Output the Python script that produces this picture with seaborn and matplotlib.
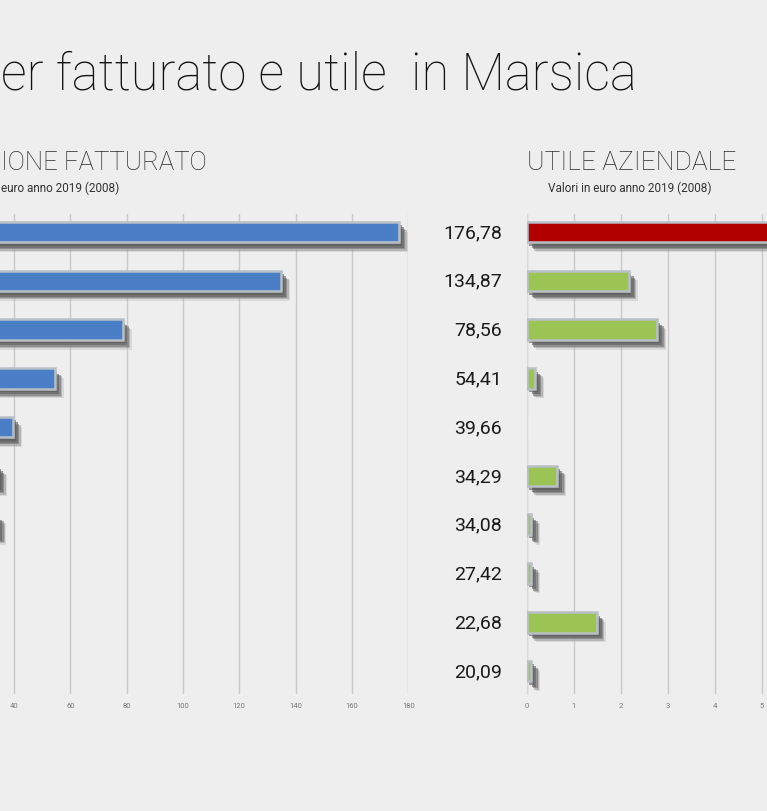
import matplotlib
matplotlib.use("Agg")
import matplotlib.pyplot as plt
import matplotlib.patheffects as pe
from matplotlib.transforms import blended_transform_factory
import seaborn as sns
import pandas as pd

# ---- data ----
ranks = ["1", "2", "3", "4", "5", "6", "7", "8", "9", "10"]
fatturato = [176.78, 134.87, 78.56, 54.41, 39.66, 34.29, 34.08, 27.42, 22.68, 20.09]
fatturato_labels = ["176,78", "134,87", "78,56", "54,41", "39,66",
                    "34,29", "34,08", "27,42", "22,68", "20,09"]
utile = [7.5, 2.17, 2.78, 0.18, 0.0, 0.65, 0.10, 0.10, 1.49, 0.10]
utile_colors = ["#b00000"] + ["#9bc454"] * 9
fatt_grid = [0, 20, 40, 60, 80, 100, 120, 140, 160, 180]
fatt_ticks = [40, 60, 80, 100, 120, 140, 160, 180]
utile_grid = [0, 1, 2, 3, 4, 5, 6, 7, 8]
utile_ticks = [0, 1, 2, 3, 4, 5]

title_text = "er fatturato e utile  in Marsica"
left_heading = "IONE FATTURATO"
right_heading = "UTILE AZIENDALE"
subtitle = "Valori in euro anno 2019 (2008)"
left_subtitle = "euro anno 2019 (2008)"

BG = "#eeeeee"
sns.set_theme(style="white")
plt.rcParams["font.family"] = ["Roboto", "DejaVu Sans"]

W, H = 767, 812
fig = plt.figure(figsize=(W / 100, H / 100), dpi=100, facecolor=BG)

def px_axes(x0, x1, y_top, y_bot):
    return fig.add_axes([x0 / W, (H - y_bot) / H, (x1 - x0) / W, (y_bot - y_top) / H])

axL = px_axes(-98.7, 408.3, 215, 695)
axR = px_axes(526.7, 526.7 + 8 * 47.0, 215, 695)

df_f = pd.DataFrame({"rank": ranks, "val": fatturato})
df_u = pd.DataFrame({"rank": ranks, "val": utile})

sns.barplot(data=df_f, x="val", y="rank", orient="h", color="#4a7fc8",
            width=0.42, ax=axL, saturation=1)
sns.barplot(data=df_u, x="val", y="rank", orient="h", hue="rank",
            palette=utile_colors, width=0.42, ax=axR, saturation=1, legend=False)

shadow = [
    pe.SimplePatchShadow(offset=(6.5, -7.0), shadow_rgbFace="#b0b0b0", alpha=0.35),
    pe.SimplePatchShadow(offset=(5.5, -6.0), shadow_rgbFace="#8c8c8c", alpha=0.45),
    pe.SimplePatchShadow(offset=(4.5, -5.0), shadow_rgbFace="#707070", alpha=0.55),
    pe.SimplePatchShadow(offset=(3.5, -4.0), shadow_rgbFace="#606060", alpha=0.6),
    pe.SimplePatchShadow(offset=(2.0, -2.5), shadow_rgbFace="#5a5a5a", alpha=0.6),
    pe.Normal(),
]
for ax in (axL, axR):
    for p in ax.patches:
        if p.get_width() > 0:
            p.set_edgecolor("#b9bfc6")
            p.set_linewidth(1.8)
            p.set_path_effects(shadow)
            p.set_zorder(3)

for ax, grid, ticks, xmax in ((axL, fatt_grid, fatt_ticks, 180), (axR, utile_grid, utile_ticks, 8)):
    ax.set_facecolor(BG)
    ax.set_xlim(0, xmax)
    ax.set_ylim(9.47, -0.37)
    ax.set_xticks(ticks)
    ax.set_xticklabels([str(t) for t in ticks])
    ax.tick_params(axis="x", length=0, pad=6, labelsize=5.5, labelcolor="#777777")
    ax.set_yticks([])
    ax.set_xlabel("")
    ax.set_ylabel("")
    for s in ax.spines.values():
        s.set_visible(False)
    for t in grid:
        ax.axvline(t, color="#cacaca", lw=1.0, zorder=1)

axR.spines["left"].set_visible(True)
axR.spines["left"].set_color("#d8d8d8")
axR.spines["left"].set_linewidth(0.8)

# middle value labels
tr = blended_transform_factory(fig.transFigure, axR.transData)
for i, lab in enumerate(fatturato_labels):
    fig.text(502 / W, i, lab, transform=tr, ha="right", va="center",
             fontsize=14, color="#1a1a1a")

# titles
fig.text(1 / W, (H - 90) / H, title_text, ha="left", va="baseline",
         fontsize=36.5, color="#111111", fontweight="light")
fig.text(1 / W, (H - 170) / H, left_heading, ha="left", va="baseline",
         fontsize=18.5, color="#2a2a2a", fontweight="light")
fig.text(632 / W, (H - 170) / H, right_heading, ha="center", va="baseline",
         fontsize=19, color="#2a2a2a", fontweight="light")
fig.text(630 / W, (H - 192) / H, subtitle, ha="center", va="baseline",
         fontsize=8.5, color="#333333")
fig.text(1 / W, (H - 192) / H, left_subtitle, ha="left", va="baseline",
         fontsize=8.5, color="#333333")

fig.savefig("out.png", dpi=100, facecolor=BG)
